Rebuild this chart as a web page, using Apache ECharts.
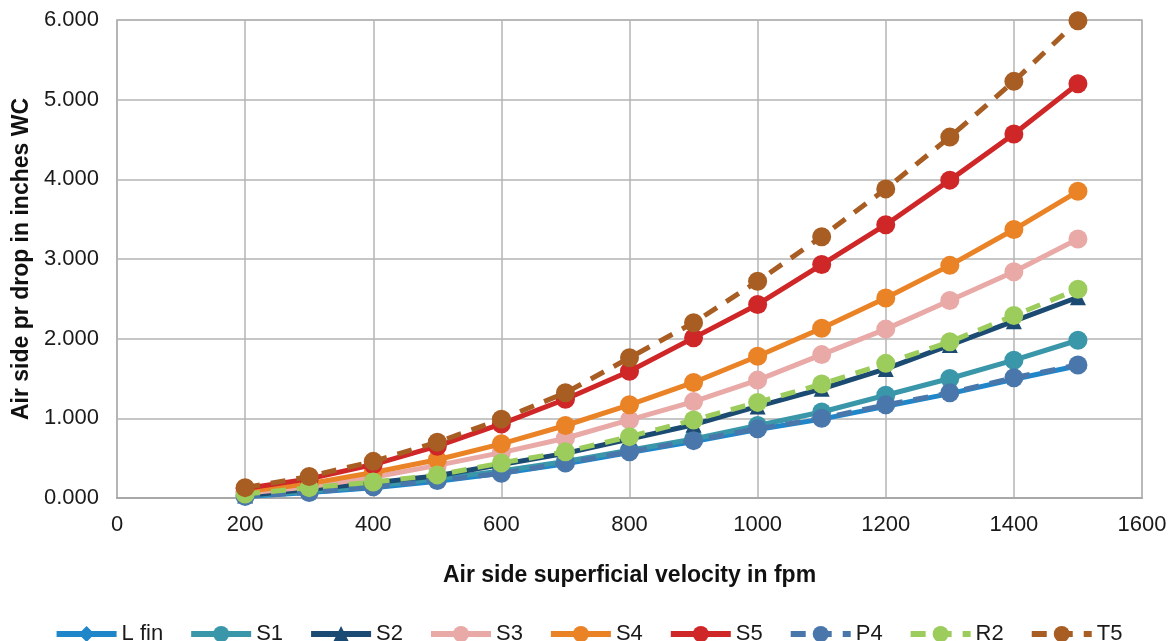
<!DOCTYPE html>
<html>
<head>
<meta charset="utf-8">
<script src="https://cdn.jsdelivr.net/npm/echarts@6/dist/echarts.min.js"></script>
<style>
html,body{margin:0;padding:0;background:#fff;}
#chart{width:1176px;height:641px;}
</style>
</head>
<body>
<div id="chart"></div>
<script>
const velocities = [200,300,400,500,600,700,800,900,1000,1100,1200,1300,1400,1500];
const seriesNames = ['L fin','S1','S2','S3','S4','S5','P4','R2','T5'];
const lfin = [0.02,0.07,0.13,0.21,0.31,0.43,0.57,0.71,0.86,0.99,1.15,1.31,1.49,1.66];
const s1   = [0.03,0.08,0.15,0.24,0.34,0.46,0.60,0.74,0.91,1.08,1.29,1.50,1.73,1.98];
const s2   = [0.03,0.11,0.19,0.28,0.42,0.56,0.74,0.92,1.15,1.37,1.62,1.92,2.22,2.52];
const s3   = [0.06,0.14,0.26,0.41,0.57,0.75,0.98,1.21,1.48,1.80,2.12,2.48,2.84,3.25];
const s4   = [0.08,0.18,0.32,0.48,0.68,0.91,1.17,1.45,1.78,2.13,2.51,2.92,3.37,3.85];
const s5   = [0.12,0.24,0.42,0.65,0.93,1.24,1.59,2.01,2.43,2.93,3.43,3.99,4.57,5.20];
const p4   = [0.02,0.07,0.14,0.22,0.31,0.44,0.58,0.72,0.87,1.00,1.17,1.32,1.51,1.67];
const r2   = [0.05,0.13,0.20,0.29,0.44,0.58,0.77,0.98,1.20,1.43,1.69,1.96,2.29,2.62];
const t5   = [0.13,0.27,0.46,0.70,0.99,1.32,1.76,2.20,2.72,3.28,3.88,4.53,5.23,5.99];
const xTicks = [0,200,400,600,800,1000,1200,1400,1600];
const yTicks = [0,1,2,3,4,5,6];

const allValues = [lfin,s1,s2,s3,s4,s5,p4,r2,t5];
const colors = ['#1f86c9','#3a97a9','#1b4a72','#e8a9a7','#ea8226','#cf2628','#4a77ab','#9ccc5c','#a85d23'];
const symbols = ['diamond','circle','triangle','circle','circle','circle','circle','circle','circle'];
const dashed = [false,false,false,false,false,false,true,true,true];

const series = seriesNames.map((name,i)=>({
  name: name,
  type: 'line',
  data: velocities.map((v,j)=>[v, allValues[i][j]]),
  symbol: symbols[i],
  symbolSize: symbols[i]==='circle'?19:16,
  showSymbol: true,
  z: 2+i,
  itemStyle: {color: colors[i]},
  lineStyle: {color: colors[i], width: 5, type: dashed[i]?[15,11]:'solid'},
  emphasis: {disabled: true},
  animation: false
}));

const chart = echarts.init(document.getElementById('chart'), null, {renderer:'canvas'});
chart.setOption({
  backgroundColor: '#ffffff',
  animation: false,
  textStyle: {fontFamily: 'Liberation Sans, Arial, sans-serif'},
  grid: {left: 117, right: 34, top: 20, bottom: 143, containLabel: false, outerBoundsMode: 'none', show: true, borderColor: '#b4b4b4', borderWidth: 1.5},
  legend: {
    data: seriesNames,
    top: 618,
    left: 'center',
    itemWidth: 60,
    itemHeight: 20,
    itemGap: 25,
    lineStyle: {width: 6},
    textStyle: {fontSize: 22, color: '#1a1a1a', fontFamily: 'Liberation Sans, Arial, sans-serif'}
  },
  xAxis: {
    type: 'value',
    min: xTicks[0],
    max: xTicks[xTicks.length-1],
    interval: 200,
    name: 'Air side superficial velocity in fpm',
    nameLocation: 'middle',
    nameGap: 66,
    nameTextStyle: {fontSize: 23, fontWeight: 'bold', color: '#111'},
    axisLine: {show: true, lineStyle: {color: '#a8a8a8', width: 2}},
    axisTick: {show: false},
    axisLabel: {fontSize: 22, color: '#1a1a1a', margin: 16, formatter: v => String(v)},
    splitLine: {show: true, lineStyle: {color: '#b4b4b4', width: 1.5}}
  },
  yAxis: {
    type: 'value',
    min: yTicks[0],
    max: yTicks[yTicks.length-1],
    interval: 1,
    name: 'Air side pr drop in inches WC',
    nameLocation: 'middle',
    nameGap: 82,
    nameTextStyle: {fontSize: 23, fontWeight: 'bold', color: '#111'},
    axisLine: {show: true, lineStyle: {color: '#b4b4b4', width: 1.5}},
    axisTick: {show: false},
    axisLabel: {fontSize: 22, color: '#1a1a1a', margin: 18, formatter: v => v.toFixed(3)},
    splitLine: {show: true, lineStyle: {color: '#b4b4b4', width: 1.5}}
  },
  series: series
});
</script>
</body>
</html>
